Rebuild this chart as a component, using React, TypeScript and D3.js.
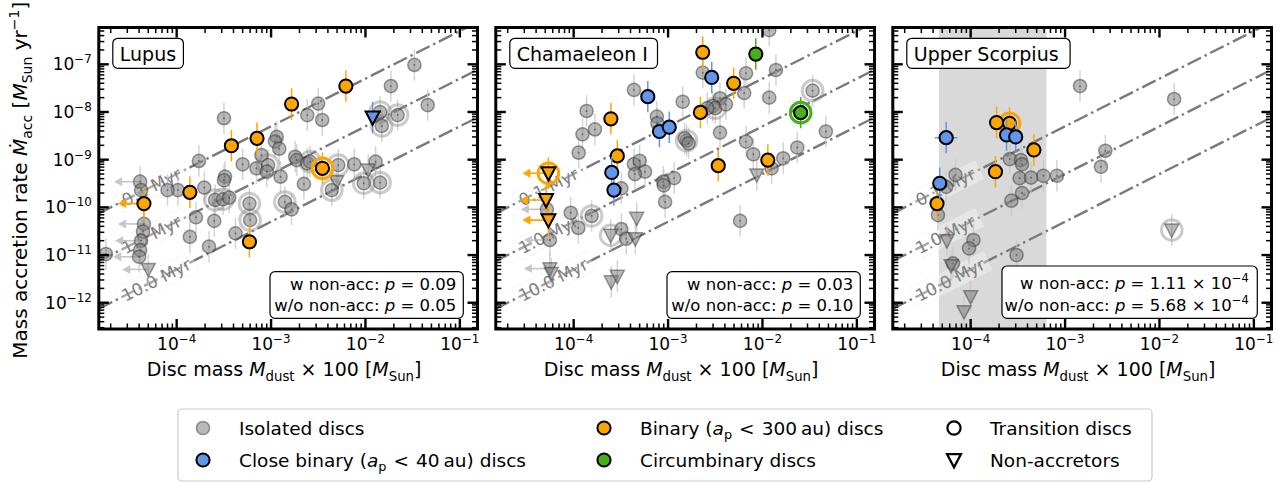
import React from "react";
import * as d3 from "d3";

type Pt = [number, number, string]; // [Mdust*100 (Msun), Macc (Msun/yr), flags: t=transition n=non-accretor u=x upper limit h=x error]

const REGION_NAMES = ["Lupus", "Chamaeleon I", "Upper Scorpius"];
const P_WITH_NONACC = [0.09, 0.03, 1.11e-4];
const P_WITHOUT_NONACC = [0.05, 0.1, 5.68e-4];
const ISOCHRONE_AGES_MYR = [0.1, 1.0, 10.0];
const X_TICK_EXPONENTS = [-4, -3, -2, -1];
const Y_TICK_EXPONENTS = [-12, -11, -10, -9, -8, -7];
const USCO_BAND = [4.6e-5, 6.35e-4];
const ERR_DEX = 0.33;

const lupusIsolated: Pt[] = [
  [3.3e-2, 9.7e-8, ""], [1.86e-2, 3.5e-8, ""], [4.56e-2, 1.4e-8, ""], [1.43e-2, 1.0e-8, "t"],
  [2.19e-2, 8.6e-9, "t"], [1.49e-2, 5.1e-9, "t"], [3.16e-3, 1.5e-8, ""], [2.42e-3, 8.6e-9, ""],
  [3.48e-3, 6.8e-9, ""], [3.17e-4, 7.4e-9, ""], [1.15e-3, 3.0e-9, ""], [1.1e-3, 2.4e-9, ""],
  [1.22e-3, 1.7e-9, ""], [7.9e-4, 1.25e-9, ""], [1.72e-4, 9.4e-10, ""], [5.0e-4, 8.0e-10, ""],
  [7.0e-4, 6.6e-10, ""], [9.3e-4, 7.7e-10, "t"], [9.0e-4, 5.6e-10, ""], [1.8e-3, 1.15e-9, ""],
  [1.87e-3, 9.8e-10, ""], [2.42e-3, 8.4e-10, ""], [2.59e-3, 9.1e-10, "t"], [5.15e-3, 7.7e-10, "t"],
  [7.6e-3, 8.0e-10, ""], [1.28e-2, 9.1e-10, ""], [1.07e-2, 6.1e-10, "n"], [9.6e-3, 3.2e-10, "t"],
  [1.43e-2, 3.3e-10, "t"], [4.95e-3, 3.45e-10, "n"], [4.4e-3, 2.3e-10, "t"], [2.23e-3, 3.1e-10, ""],
  [1.26e-3, 4.4e-10, ""], [3.25e-4, 4.4e-10, ""], [3.17e-4, 3.7e-10, ""], [1.96e-4, 2.6e-10, ""],
  [1.03e-4, 2.3e-10, ""], [8.0e-5, 2.3e-10, ""], [4.1e-5, 3.45e-10, "u"], [4.2e-5, 2.3e-10, ""],
  [2.55e-4, 1.43e-10, "t"], [3.1e-4, 1.48e-10, "t"], [3.6e-4, 1.6e-10, ""], [5.9e-4, 1.2e-10, "t"],
  [1.4e-3, 1.3e-10, "t"], [1.65e-3, 9.1e-11, ""], [6.0e-4, 5.4e-11, "t"], [2.5e-4, 5.2e-11, ""],
  [1.6e-4, 6.2e-11, ""], [1.38e-4, 2.4e-11, ""], [4.2e-4, 2.85e-11, ""], [2.2e-4, 1.5e-11, ""],
  [4.5e-5, 4.5e-11, "u"], [4.4e-5, 3.1e-11, ""], [4.2e-5, 2.0e-11, "u"], [4.1e-5, 1.27e-11, ""],
  [4.0e-5, 9.2e-12, "u"], [1.78e-5, 1.05e-11, ""], [5.0e-5, 5.0e-12, "nu"],
];
const lupusBinary: Pt[] = [
  [6.2e-3, 3.5e-8, ""], [1.65e-3, 1.47e-8, ""], [7.1e-4, 2.8e-9, ""], [3.8e-4, 1.96e-9, ""],
  [3.5e-3, 6.6e-10, "t"], [1.38e-4, 2.07e-10, ""], [4.5e-5, 1.2e-10, "u"], [5.9e-4, 1.9e-11, ""],
];
const lupusClose: Pt[] = [[1.19e-2, 7.7e-9, "n"]];
const lupusCircum: Pt[] = [];

const chaIsolated: Pt[] = [
  [1.18e-2, 5.2e-7, ""], [1.39e-2, 7.6e-8, ""], [6.7e-3, 6.5e-8, ""], [2.33e-3, 6.7e-8, ""],
  [6.4e-3, 2.5e-8, ""], [1.18e-2, 2.0e-8, ""], [3.4e-2, 2.8e-8, "t"], [4.35e-4, 2.9e-8, ""],
  [1.43e-3, 1.64e-8, ""], [1.37e-4, 1.05e-8, ""], [3.55e-3, 1.94e-8, ""], [2.97e-3, 1.33e-8, ""],
  [3.16e-3, 1.2e-8, "t"], [4.1e-3, 1.45e-8, ""], [2.6e-3, 1.2e-8, ""], [7.6e-4, 8.0e-9, ""],
  [7.7e-4, 5.8e-9, ""], [1.68e-4, 4.3e-9, ""], [1.24e-4, 3.4e-9, ""], [1.57e-3, 2.5e-9, "t"],
  [1.5e-3, 2.8e-9, ""], [1.65e-3, 2.2e-9, ""], [3.55e-3, 3.7e-9, ""], [1.13e-4, 1.4e-9, ""],
  [6.7e-3, 2.4e-9, ""], [8.0e-3, 1.3e-9, ""], [2.34e-2, 1.8e-9, ""], [4.7e-2, 3.9e-9, ""],
  [1.66e-2, 1.07e-9, ""], [1.25e-2, 6.6e-10, ""], [4.35e-4, 8.1e-10, ""], [5.0e-4, 9.5e-10, ""],
  [5.7e-4, 5.6e-10, ""], [4.46e-4, 5.0e-10, ""], [1.16e-3, 4.1e-10, ""], [8.9e-4, 3.45e-10, ""],
  [9.0e-4, 2.9e-10, ""], [3.2e-4, 2.5e-10, ""], [9.3e-4, 1.3e-10, ""], [9.3e-5, 7.7e-11, ""],
  [1.55e-4, 6.6e-11, "t"], [1.12e-4, 3.7e-11, ""], [3.2e-4, 3.5e-11, ""], [3.6e-4, 2.2e-11, ""],
  [5.8e-3, 5.2e-11, ""], [5.2e-5, 9.1e-11, "u"], [5.6e-5, 2.07e-11, "u"],
  [4.65e-4, 5.9e-11, "n"], [4.5e-4, 2.2e-11, "n"], [2.47e-4, 2.6e-11, "nt"], [2.5e-4, 2.75e-12, "n"],
  [2.9e-4, 3.6e-12, "n"], [8.7e-3, 4.8e-10, "n"], [5.6e-5, 5.2e-12, "nu"], [5.8e-5, 4.1e-12, "n"],
];
const chaBinary: Pt[] = [
  [2.33e-3, 1.79e-7, ""], [4.95e-3, 4.0e-8, ""], [2.2e-3, 9.8e-9, ""], [2.48e-4, 7.2e-9, ""],
  [2.9e-4, 1.2e-9, ""], [3.4e-3, 7.5e-10, ""], [1.14e-2, 9.8e-10, ""], [5.4e-5, 5.2e-10, "ntu"],
  [5.1e-5, 1.43e-10, "nu"], [5.4e-5, 5.4e-11, "nu"],
];
const chaClose: Pt[] = [
  [2.9e-3, 5.3e-8, ""], [6.1e-4, 2.1e-8, ""], [8.1e-4, 3.9e-9, ""], [1.03e-3, 4.8e-9, ""],
  [2.53e-4, 5.4e-10, ""], [2.67e-4, 2.3e-10, ""],
];
const chaCircum: Pt[] = [[8.5e-3, 1.64e-7, ""], [2.54e-2, 9.7e-9, "t"]];

const uscoIsolated: Pt[] = [
  [1.44e-3, 3.5e-8, ""], [1.43e-2, 1.87e-8, ""], [2.67e-3, 1.54e-9, ""], [2.4e-3, 7.1e-10, ""],
  [2.6e-4, 1.03e-9, ""], [3.4e-4, 9.8e-10, ""], [3.5e-4, 8.0e-10, ""], [3.3e-4, 4.1e-10, ""],
  [4.36e-4, 4.2e-10, ""], [5.9e-4, 4.6e-10, ""], [8.2e-4, 4.6e-10, ""], [3.5e-4, 2.0e-10, ""],
  [2.7e-4, 1.38e-10, ""], [6.9e-5, 4.8e-10, ""], [5.5e-5, 2.7e-10, ""], [4.5e-5, 6.9e-11, ""],
  [1.07e-4, 2.07e-11, ""], [9.6e-5, 1.38e-11, ""], [6.5e-5, 6.7e-12, ""], [3.06e-4, 1.0e-11, ""],
  [5.6e-5, 2.0e-11, "n"], [6.2e-5, 6.0e-12, "n"], [1.0e-4, 1.34e-12, "n"], [8.5e-5, 6.5e-13, "n"],
  [1.35e-2, 3.35e-11, "nt"],
];
const uscoBinary: Pt[] = [
  [1.88e-4, 6.0e-9, ""], [2.58e-4, 5.8e-9, "t"], [4.67e-4, 1.6e-9, ""], [1.83e-4, 5.6e-10, ""],
  [4.4e-5, 1.2e-10, ""],
];
const uscoClose: Pt[] = [
  [5.5e-5, 2.9e-9, "h"], [2.4e-4, 3.3e-9, ""], [3.0e-4, 3.0e-9, ""], [4.7e-5, 3.2e-10, ""],
];
const uscoCircum: Pt[] = [];

// ---------- layout / style ----------
const FONT = "DejaVu Sans, sans-serif";
const LEFTS = [98.8, 495.8, 892.8];
const PW = 378.7;
const TOP = 27.5;
const BOTTOM = 329;
const XDOM: [number, number] = [10 ** -4.825, 10 ** -0.813];
const YDOM: [number, number] = [10 ** -12.551, 10 ** -6.228];
const LABEL_BOX_W = [70.6, 147.7, 163.3];
const AXFS = 19;

type Cat = "iso" | "bin" | "close" | "circ";
const STY: Record<Cat, any> = {
  iso: { fill: "#808080", fo: 0.55, stroke: "#2a2a2a", so: 0.45, sw: 1.5, err: "#c6c6c6", ring: "#8c8c8c", ro: 0.45, arrow: "#bdbdbd" },
  bin: { fill: "#FFA500", fo: 1, stroke: "#000", so: 1, sw: 2, err: "#FFA500", ring: "#FFA500", ro: 1, arrow: "#FFA500" },
  close: { fill: "#6495ED", fo: 1, stroke: "#000", so: 1, sw: 2, err: "#6495ED", ring: "#6495ED", ro: 1, arrow: "#6495ED" },
  circ: { fill: "#45b01c", fo: 1, stroke: "#000", so: 1, sw: 2, err: "#45b01c", ring: "#45b01c", ro: 1, arrow: "#45b01c" },
};

function logTicks(min: number, max: number) {
  const major: number[] = [];
  const minor: number[] = [];
  for (let e = Math.floor(Math.log10(min)); e <= Math.ceil(Math.log10(max)); e++) {
    for (let k = 1; k <= 9; k++) {
      const v = k * 10 ** e;
      if (v < min || v > max) continue;
      if (k === 1) major.push(v);
      else minor.push(v);
    }
  }
  return { major, minor };
}

function tri(x: number, y: number, r: number) {
  return `M${x - r},${y - r * 0.85}L${x + r},${y - r * 0.85}L${x},${y + r * 1.05}Z`;
}

function Pow({ x, y, exp, anchor, fs }: { x: number; y: number; exp: number; anchor: string; fs: number }) {
  return (
    <text x={x} y={y} textAnchor={anchor as any} fontSize={fs} fontFamily={FONT} fill="#000">
      10<tspan dy={-0.42 * fs} fontSize={fs * 0.7}>{"\u2212" + Math.abs(exp)}</tspan>
    </text>
  );
}

function Group({ pts, cat, xs, ys }: { pts: Pt[]; cat: Cat; xs: any; ys: any }) {
  const s = STY[cat];
  const R = 6.6;
  return (
    <g>
      {pts.map((p, i) => {
        const x = xs(p[0]);
        const y1 = ys(p[1] * 10 ** ERR_DEX);
        const y2 = ys(p[1] * 10 ** -ERR_DEX);
        return <line key={"e" + i} x1={x} x2={x} y1={y1} y2={y2} stroke={s.err} strokeWidth={1.5} opacity={cat === "iso" ? 0.75 : 1} />;
      })}
      {pts.filter((p) => p[2].includes("h")).map((p, i) => {
        const y = ys(p[1]);
        return <line key={"h" + i} x1={xs(p[0] * 10 ** -0.12)} x2={xs(p[0] * 10 ** 0.12)} y1={y} y2={y} stroke={s.err} strokeWidth={1.5} />;
      })}
      {pts.filter((p) => p[2].includes("u")).map((p, i) => {
        const x = xs(p[0]);
        const y = ys(p[1]);
        const tip = x - 26;
        return (
          <g key={"u" + i} opacity={cat === "iso" ? 0.85 : 1}>
            <line x1={x} x2={tip + 6} y1={y} y2={y} stroke={s.arrow} strokeWidth={1.6} />
            <path d={`M${tip},${y}L${tip + 8},${y - 4.5}L${tip + 8},${y + 4.5}Z`} fill={s.arrow} />
          </g>
        );
      })}
      {pts.filter((p) => p[2].includes("t")).map((p, i) => (
        <circle key={"t" + i} cx={xs(p[0])} cy={ys(p[1])} r={10.3} fill="none" stroke={s.ring} strokeOpacity={s.ro} strokeWidth={3} />
      ))}
      {pts.map((p, i) => {
        const x = xs(p[0]);
        const y = ys(p[1]);
        if (p[2].includes("n")) {
          return (
            <path key={"m" + i} d={tri(x, y, 7)} fill={s.fill} fillOpacity={s.fo} stroke={s.stroke} strokeOpacity={s.so} strokeWidth={s.sw} strokeLinejoin="miter" />
          );
        }
        return (
          <g key={"m" + i}>
            <circle cx={x} cy={y} r={R} fill={s.fill} fillOpacity={s.fo} stroke={s.stroke} strokeOpacity={s.so} strokeWidth={s.sw} />
            {cat === "iso" && <circle cx={x} cy={y} r={0.9} fill="#333" opacity={0.6} />}
          </g>
        );
      })}
    </g>
  );
}

function Panel({ idx, groups }: { idx: number; groups: [Pt[], Cat][] }) {
  const left = LEFTS[idx];
  const right = left + PW;
  const xs = d3.scaleLog().domain(XDOM).range([left, right]);
  const ys = d3.scaleLog().domain(YDOM).range([BOTTOM, TOP]);
  const xt = logTicks(XDOM[0], XDOM[1]);
  const yt = logTicks(YDOM[0], YDOM[1]);
  const angle = (Math.atan2(ys(1e-8) - ys(1e-9), xs(1e-3) - xs(1e-4)) * 180) / Math.PI;
  const clipId = "clip" + idx;
  const LFS = 17;
  const pw = P_WITH_NONACC[idx];
  const pwo = P_WITHOUT_NONACC[idx];
  const sci = pw < 1e-3;
  const boxW = sci ? 255.3 : 193.3;
  const boxH = sci ? 52.3 : 46.6;
  const boxR = right - 14.2;
  const boxB = BOTTOM - 10.7;
  const pText = (v: number) => {
    if (v >= 1e-3) return <tspan>{v.toFixed(2)}</tspan>;
    const e = Math.floor(Math.log10(v));
    const m = v / 10 ** e;
    return (
      <tspan>
        {m.toFixed(2) + " \u00d7 10"}
        <tspan dy={-7} fontSize={11.5}>{"\u2212" + Math.abs(e)}</tspan>
        <tspan dy={7} fontSize={16}>{"\u200a"}</tspan>
      </tspan>
    );
  };
  return (
    <g>
      <defs>
        <clipPath id={clipId}>
          <rect x={left} y={TOP} width={PW} height={BOTTOM - TOP} />
        </clipPath>
      </defs>
      <g clipPath={`url(#${clipId})`}>
        {idx === 2 && (
          <rect x={xs(USCO_BAND[0])} y={TOP} width={xs(USCO_BAND[1]) - xs(USCO_BAND[0])} height={BOTTOM - TOP} fill="#d9d9d9" />
        )}
        {ISOCHRONE_AGES_MYR.map((a, i) => {
          const f = (m: number) => m / (2 * a * 1e6);
          return (
            <line key={"l" + i} x1={left} x2={right} y1={ys(f(XDOM[0]))} y2={ys(f(XDOM[1]))} stroke="#7a7a7a" strokeWidth={2.4} strokeDasharray="15,4,2.4,4" />
          );
        })}
        {ISOCHRONE_AGES_MYR.map((a, i) => {
          const x0 = left + 24;
          const y0 = ys(xs.invert(x0) / (2 * a * 1e6));
          const label = a.toFixed(1) + " Myr";
          const w = label.length * 0.56 * LFS + 4;
          return (
            <g key={"lab" + i} transform={`translate(${x0},${y0}) rotate(${angle})`}>
              <rect x={-4} y={-LFS * 0.62} width={w + 4} height={LFS * 1.24} fill="#fff" fillOpacity={0.35} stroke="#d0d0d0" strokeOpacity={0.5} strokeDasharray="1,2" strokeWidth={0.8} />
              <text x={0} y={0} dy={LFS * 0.36} fontSize={LFS} fontFamily={FONT} fill="#808080">{label}</text>
            </g>
          );
        })}
        {groups.map(([pts, cat], gi) => (
          <Group key={gi} pts={pts} cat={cat} xs={xs} ys={ys} />
        ))}
      </g>
      {/* ticks */}
      <g stroke="#000">
        {xt.major.map((v, i) => (
          <g key={"xm" + i} strokeWidth={2.4}>
            <line x1={xs(v)} x2={xs(v)} y1={BOTTOM} y2={BOTTOM - 10} />
            <line x1={xs(v)} x2={xs(v)} y1={TOP} y2={TOP + 10} />
          </g>
        ))}
        {xt.minor.map((v, i) => (
          <g key={"xn" + i} strokeWidth={1.5}>
            <line x1={xs(v)} x2={xs(v)} y1={BOTTOM} y2={BOTTOM - 5.5} />
            <line x1={xs(v)} x2={xs(v)} y1={TOP} y2={TOP + 5.5} />
          </g>
        ))}
        {yt.major.map((v, i) => (
          <g key={"ym" + i} strokeWidth={2.4}>
            <line x1={left} x2={left + 10} y1={ys(v)} y2={ys(v)} />
            <line x1={right} x2={right - 10} y1={ys(v)} y2={ys(v)} />
          </g>
        ))}
        {yt.minor.map((v, i) => (
          <g key={"yn" + i} strokeWidth={1.5}>
            <line x1={left} x2={left + 5.5} y1={ys(v)} y2={ys(v)} />
            <line x1={right} x2={right - 5.5} y1={ys(v)} y2={ys(v)} />
          </g>
        ))}
      </g>
      <rect x={left} y={TOP} width={PW} height={BOTTOM - TOP} fill="none" stroke="#000" strokeWidth={3} />
      {X_TICK_EXPONENTS.map((e) => (
        <Pow key={"xl" + e} x={xs(10 ** e)} y={350} exp={e} anchor="middle" fs={17} />
      ))}
      {idx === 0 &&
        Y_TICK_EXPONENTS.map((e) => <Pow key={"yl" + e} x={left - 7} y={ys(10 ** e) + 6} exp={e} anchor="end" fs={17} />)}
      <text x={(left + right) / 2 - 4} y={376} textAnchor="middle" fontSize={AXFS} fontFamily={FONT} fill="#000">
        Disc mass <tspan fontStyle="italic">M</tspan>
        <tspan dy={4.5} fontSize={AXFS * 0.7}>dust</tspan>
        <tspan dy={-4.5}>{" \u00d7 100 ["}</tspan>
        <tspan fontStyle="italic">M</tspan>
        <tspan dy={4.5} fontSize={AXFS * 0.7}>Sun</tspan>
        <tspan dy={-4.5}>]</tspan>
      </text>
      {/* region label */}
      <rect x={left + 14} y={TOP + 10.8} width={LABEL_BOX_W[idx]} height={30} rx={5} fill="#fff" stroke="#000" strokeWidth={1.2} />
      <text x={left + 21} y={TOP + 33} fontSize={19} fontFamily={FONT} fill="#000">{REGION_NAMES[idx]}</text>
      {/* p-value box */}
      <rect x={boxR - boxW} y={boxB - boxH} width={boxW} height={boxH} rx={5} fill="#fff" stroke="#000" strokeWidth={1.2} />
      <text x={boxR - 7} y={boxB - boxH + (sci ? 23 : 18.5)} textAnchor="end" fontSize={16.5} fontFamily={FONT} fill="#000">
        w non-acc: <tspan fontStyle="italic">p</tspan>{" = "}{pText(pw)}
      </text>
      <text x={boxR - 7} y={boxB - 7.5} textAnchor="end" fontSize={16.5} fontFamily={FONT} fill="#000">
        w/o non-acc: <tspan fontStyle="italic">p</tspan>{" = "}{pText(pwo)}
      </text>
    </g>
  );
}

const LEGEND_COLS = [203, 604, 954];
const LEGEND_ROWS = [428, 460];
const LEGFS = 18.5;

function Legend() {
  const tx = (c: number) => LEGEND_COLS[c] + 36;
  const ty = (r: number) => LEGEND_ROWS[r] + 6.5;
  const sub = (num: string) => (
    <>
      <tspan fontStyle="italic">a</tspan>
      <tspan dy={4.5} fontSize={LEGFS * 0.7}>p</tspan>
      <tspan dy={-4.5} dx={7}>{"<"}</tspan>
      <tspan dx={7}>{num}</tspan>
      <tspan dx={4}>{"au)"}</tspan>
      <tspan>{" discs"}</tspan>
    </>
  );
  return (
    <g fontFamily={FONT} fontSize={LEGFS} fill="#000">
      <rect x={178} y={409} width={974} height={72} rx={4} fill="#fff" stroke="#cccccc" strokeWidth={1.2} />
      <circle cx={LEGEND_COLS[0]} cy={LEGEND_ROWS[0]} r={6.6} fill="#808080" fillOpacity={0.55} stroke="#2a2a2a" strokeOpacity={0.45} strokeWidth={1.5} />
      <text x={tx(0)} y={ty(0)}>Isolated discs</text>
      <circle cx={LEGEND_COLS[0]} cy={LEGEND_ROWS[1]} r={6.6} fill="#6495ED" stroke="#000" strokeWidth={2} />
      <text x={tx(0)} y={ty(1)}>Close binary ({sub("40")}</text>
      <circle cx={LEGEND_COLS[1]} cy={LEGEND_ROWS[0]} r={6.6} fill="#FFA500" stroke="#000" strokeWidth={2} />
      <text x={tx(1)} y={ty(0)}>Binary ({sub("300")}</text>
      <circle cx={LEGEND_COLS[1]} cy={LEGEND_ROWS[1]} r={6.6} fill="#45b01c" stroke="#000" strokeWidth={2} />
      <text x={tx(1)} y={ty(1)}>Circumbinary discs</text>
      <circle cx={LEGEND_COLS[2]} cy={LEGEND_ROWS[0]} r={6.6} fill="#fff" stroke="#000" strokeWidth={2.2} />
      <text x={tx(2)} y={ty(0)}>Transition discs</text>
      <path d={tri(LEGEND_COLS[2], LEGEND_ROWS[1], 7)} fill="#fff" stroke="#000" strokeWidth={2.2} />
      <text x={tx(2)} y={ty(1)}>Non-accretors</text>
    </g>
  );
}

export default function App() {
  const panels: [Pt[], Cat][][] = [
    [[lupusIsolated, "iso"], [lupusBinary, "bin"], [lupusClose, "close"], [lupusCircum, "circ"]],
    [[chaIsolated, "iso"], [chaBinary, "bin"], [chaClose, "close"], [chaCircum, "circ"]],
    [[uscoIsolated, "iso"], [uscoBinary, "bin"], [uscoClose, "close"], [uscoCircum, "circ"]],
  ];
  const yMid = (TOP + BOTTOM) / 2;
  return (
    <svg width={1288} height={483} style={{ position: "absolute", left: 0, top: 0, background: "#fff" }} fontFamily={FONT}>
      <rect x={0} y={0} width={1288} height={483} fill="#fff" />
      {panels.map((g, i) => (
        <Panel key={i} idx={i} groups={g} />
      ))}
      <text transform={`translate(27,${yMid + 2}) rotate(-90)`} textAnchor="middle" fontSize={20} fontFamily={FONT} fill="#000">
        Mass accretion rate <tspan fontStyle="italic">{"\u1E40"}</tspan>
        <tspan dy={4.5} fontSize={14}>acc</tspan>
        <tspan dy={-4.5}>{" ["}</tspan>
        <tspan fontStyle="italic">M</tspan>
        <tspan dy={4.5} fontSize={14}>Sun</tspan>
        <tspan dy={-4.5}>{" yr"}</tspan>
        <tspan dy={-8} fontSize={14}>{"\u22121"}</tspan>
        <tspan dy={8}>]</tspan>
      </text>
      <Legend />
    </svg>
  );
}
